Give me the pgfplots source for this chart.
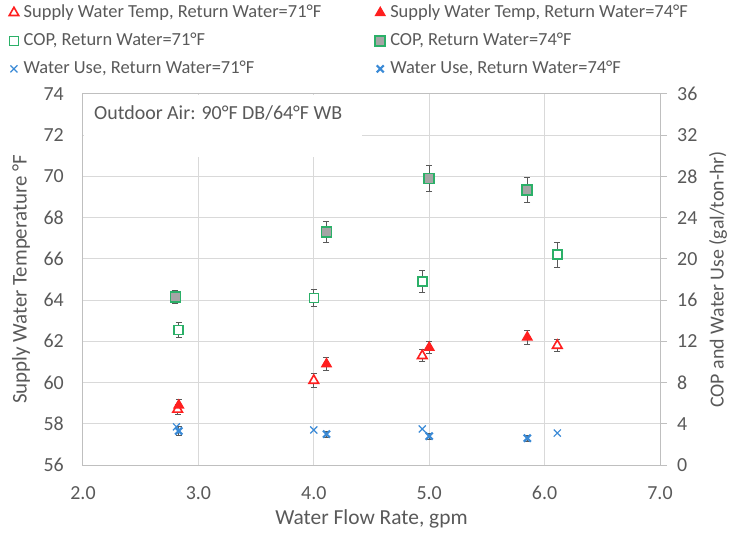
\documentclass[border=0pt]{standalone}
\usepackage{fontspec}
\setmainfont{Carlito}
\usepackage{pgfplots}
\pgfplotsset{compat=1.18}
\definecolor{txt}{HTML}{595959}
\definecolor{gridc}{HTML}{D9D9D9}
\definecolor{axc}{HTML}{BFBFBF}
\definecolor{myred}{HTML}{FF1F1F}
\definecolor{mygreen}{HTML}{2BB068}
\definecolor{myblue}{HTML}{3A8AD6}
\definecolor{errc}{HTML}{595959}
\definecolor{sqfill}{HTML}{A5A5A5}
\begin{document}
\fontsize{16}{19}\selectfont
\begin{tikzpicture}
\path[use as bounding box] (-83bp,-73bp) rectangle (650bp,465bp);
\pgfplotsset{
  common/.style={scale only axis, width=577bp, height=371bp, xmin=2, xmax=7,
    at={(0,0)}, anchor=south west,
    /pgf/number format/assume math mode=true,
    tick label style={text=txt, font=\fontsize{20}{24}\selectfont}},
  eb/.style={error bars/.cd, y dir=both, y explicit,
    error bar style={errc, line width=0.9bp},
    error mark options={errc, rotate=90, mark size=3bp, line width=0.9bp}},
  t71/.style={only marks, mark=triangle*, mark size=5.5bp, myred,
    mark options={fill=white, draw=myred, line width=1.6bp}},
  t74/.style={only marks, mark=triangle*, mark size=5.5bp, myred,
    mark options={fill=myred, draw=myred, line width=1.2bp}},
  c71/.style={only marks, mark=square*, mark size=4.5bp, mygreen,
    mark options={fill=white, draw=mygreen, line width=1.6bp}},
  c74/.style={only marks, mark=square*, mark size=5bp, mygreen,
    mark options={fill=sqfill, draw=mygreen, line width=1.6bp}},
  w71/.style={only marks, mark=x, mark size=5bp, myblue,
    mark options={draw=myblue, line width=1.2bp}},
  w74/.style={only marks, mark=x, mark size=5bp, myblue,
    mark options={draw=myblue, line width=2.2bp}},
}
% ---------- left axis: supply water temperature ----------
\begin{axis}[common,
  ymin=56, ymax=74, ytick={56,58,...,74},
  xtick={2,3,...,7},
  xticklabel style={/pgf/number format/fixed, /pgf/number format/fixed zerofill, /pgf/number format/precision=1},
  xticklabel style={anchor=center, yshift=-28bp},
  yticklabel style={anchor=east, inner sep=0pt, xshift=-19bp},
  grid=major, grid style={gridc, line width=1bp},
  axis line style={axc, line width=1bp},
  major tick length=0pt,
  xlabel={Water Flow Rate, gpm},
  ylabel={Supply Water Temperature °F},
  every axis x label/.style={at={([yshift=-54bp]axis description cs:0.5,0)}, anchor=center,
    text=txt, font=\fontsize{21.5}{25}\selectfont},
  every axis y label/.style={at={([xshift=-62bp]axis description cs:0,0.5)}, rotate=90, anchor=center,
    text=txt, font=\fontsize{21}{25}\selectfont},
]
\fill[white] ([xshift=0.6bp]axis cs:2,70.95) rectangle ([yshift=-0.6bp]axis cs:4.42,74);
\node[anchor=west, text=txt, inner sep=0pt, font=\fontsize{20}{24}\selectfont]
  at ([xshift=11bp, yshift=-19bp]axis cs:2,74) {Outdoor Air: 90°F DB/64°F WB};
\addplot[t71, eb] coordinates {
  (2.82,58.7) +- (0,0.25)
  (4.00,60.1) +- (0,0.35)
  (4.94,61.3) +- (0,0.30)
  (6.11,61.8) +- (0,0.30)
};
\addplot[t74, eb] coordinates {
  (2.83,58.9) +- (0,0.30)
  (4.11,60.9) +- (0,0.30)
  (5.00,61.7) +- (0,0.30)
  (5.85,62.2) +- (0,0.35)
};
\end{axis}
% ---------- right axis: COP and water use ----------
\begin{axis}[common,
  ymin=0, ymax=36, ytick={0,4,...,36},
  axis x line=none,
  axis y line*=right,
  axis line style={-, axc, line width=1bp},
  ytick pos=right, tick align=outside, major tick length=7bp,
  tick style={axc, line width=1bp},
  yticklabel style={anchor=west, inner sep=0pt, xshift=10bp},
  ylabel={COP and Water Use (gal/ton-hr)},
  every axis y label/.style={at={([xshift=58bp]axis description cs:1,0.5)}, rotate=90, anchor=center,
    text=txt, font=\fontsize{20}{24}\selectfont},
  legend columns=2,
  legend cell align=left,
  legend image code/.code={\draw plot coordinates {(0bp,0bp)};},
  legend style={at={([xshift=-74bp, yshift=90bp]axis description cs:0,1)}, anchor=north west,
    draw=none, fill=none, text=txt, font=\fontsize{18.5}{22}\selectfont,
    row sep=11bp, inner sep=0pt,
    nodes={inner sep=1bp},
    /tikz/column 1/.style={column sep=4bp},
    /tikz/column 2/.style={column sep=53bp},
    /tikz/column 3/.style={column sep=4bp}},
]
\addlegendimage{t71}
\addlegendentry{Supply Water Temp, Return Water=71°F}
\addlegendimage{t74}
\addlegendentry{Supply Water Temp, Return Water=74°F}
\addplot[c71, eb] coordinates {
  (2.83,13.1) +- (0,0.7)
  (4.00,16.2) +- (0,0.8)
  (4.94,17.8) +- (0,1.1)
  (6.11,20.4) +- (0,1.2)
};
\addlegendentry{COP, Return Water=71°F}
\addplot[c74, eb] coordinates {
  (2.80,16.3) +- (0,0.6)
  (4.11,22.6) +- (0,1.0)
  (5.00,27.8) +- (0,1.3)
  (5.85,26.7) +- (0,1.2)
};
\addlegendentry{COP, Return Water=74°F}
\addplot[w71] coordinates {
  (2.81,3.7)
  (4.00,3.4)
  (4.94,3.5)
  (6.11,3.1)
};
\addlegendentry{Water Use, Return Water=71°F}
\addplot[w74, eb] coordinates {
  (2.83,3.3) +- (0,0.4)
  (4.11,3.0) +- (0,0.3)
  (5.00,2.8) +- (0,0.3)
  (5.85,2.6) +- (0,0.3)
};
\addlegendentry{Water Use, Return Water=74°F}
\end{axis}
\end{tikzpicture}
\end{document}
